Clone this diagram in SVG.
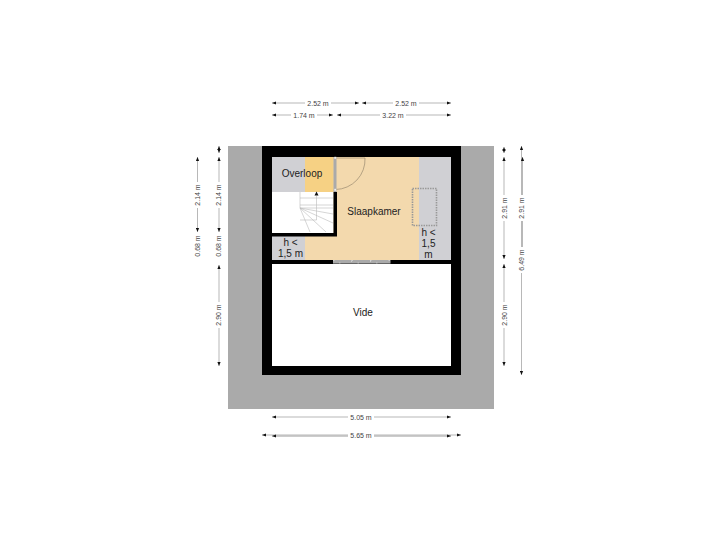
<svg xmlns="http://www.w3.org/2000/svg" width="720" height="540" viewBox="0 0 720 540">
<style>
text{font-family:"Liberation Sans",Arial,sans-serif;fill:#222;text-anchor:middle}
.r{font-size:10px}
.d{font-size:7px;fill:#444}
.dim line{stroke:#999;stroke-width:.7;marker-start:url(#a);marker-end:url(#a)}
.bg{fill:#fff}
.st{stroke:#bbb;stroke-width:.6;fill:none}
</style>
<defs>
<marker id="a" viewBox="0 0 4 4" refX="4" refY="2" markerUnits="userSpaceOnUse" markerWidth="4" markerHeight="4" orient="auto-start-reverse"><path d="M0 .4L4 2L0 3.600Z" fill="#111"/></marker>
</defs>
<rect width="720" height="540" fill="#fff"/>
<g id="site"><rect x="228" y="146" width="266" height="263" fill="#aaa"/></g>
<g id="walls">
<rect x="262" y="146" width="199" height="229" fill="#000"/>
</g>
<g id="slaapkamer">
<rect x="272" y="157" width="179" height="103" fill="#f3d9ad"/>
<rect x="419" y="157" width="32" height="103" fill="#d0d0d4"/>
<rect x="272" y="236" width="33" height="24" fill="#d0d0d4"/>
<text class="r" x="374" y="214.500">Slaapkamer</text>
<rect x="412.500" y="188.500" width="24" height="37" fill="none" stroke="#999" stroke-width="1.600" stroke-dasharray="1.500 1"/>
<text class="r" x="428.500" y="235.500">h &lt;</text>
<text class="r" x="428.500" y="247">1,5</text>
<text class="r" x="428.500" y="258">m</text>
<text class="r" x="290.500" y="245.500">h &lt;</text>
<text class="r" x="290.500" y="257">1,5 m</text>
</g>
<g id="overloop">
<rect x="272" y="157" width="33" height="35" fill="#d0d0d4"/>
<rect x="305" y="157" width="28.500" height="35" fill="#f6d184"/>
<text class="r" x="302" y="177">Overloop</text>
</g>
<g id="stairs">
<path d="M272 192H333.500V233H272Z" fill="#fff"/>
<path d="M333.500 192H337V236.500H272V233H333.500Z" fill="#000"/>
<rect x="333.500" y="157" width="3" height="35" fill="#aaa"/>
<path class="st" d="M300 192V208L310 232M300 208H333M300 198H333M300 205H333M316.500 196V220H300M300 208L333 214M300 208L333 223M300 208L326 232"/>
<path d="M316.500 191.500l-2 4h4z" fill="#111"/>
</g>
<g id="door">
<path d="M335.500 158H365A30 30 0 0 1 335.500 189.500" fill="none" stroke="#9a8a70" stroke-width=".7"/>
<rect x="334.300" y="156.800" width="2" height="2" fill="#eee"/>
<rect x="334.300" y="188.800" width="2" height="2" fill="#eee"/>
</g>
<g id="window">
<rect x="333" y="260" width="57.500" height="3.600" fill="#aaa"/>
<path d="M333 260.500h58v2.500h-58zM351.500 260.500v2.500M370.500 260.500v2.500" fill="none" stroke="#eee" stroke-width=".5" stroke-dasharray="1.500 17"/>
</g>
<g id="vide">
<rect x="272" y="264" width="179" height="102" fill="#fff"/>
<text class="r" x="363" y="316">Vide</text>
</g>
<g id="connectors" class="dim">
<line x1="272" y1="103" x2="359" y2="103"/>
<line x1="362" y1="103" x2="451" y2="103"/>
<line x1="272" y1="115" x2="333" y2="115"/>
<line x1="337" y1="115" x2="451" y2="115"/>
<line x1="197.500" y1="157" x2="197.500" y2="232"/>
<line x1="219" y1="146" x2="219" y2="153"/>
<line x1="219" y1="157" x2="219" y2="232"/>
<line x1="219" y1="265" x2="219" y2="366"/>
<line x1="504" y1="147" x2="504" y2="153"/>
<line x1="504" y1="157" x2="504" y2="259"/>
<line x1="504" y1="264" x2="504" y2="366"/>
<line x1="521.500" y1="146" x2="521.500" y2="375"/>
<line x1="522.500" y1="157" x2="522.500" y2="259"/>
<line x1="272" y1="417" x2="451" y2="417"/>
<line x1="262" y1="435" x2="461" y2="435"/>
<line x1="272" y1="436" x2="451" y2="436" style="stroke:#bbb;stroke-width:1.500"/>
</g>
<g id="labels">
<rect x="305" y="99" width="26" height="8" class="bg"/><text class="d" x="318" y="105.500">2.52 m</text>
<rect x="393" y="99" width="26" height="8" class="bg"/><text class="d" x="406" y="105.500">2.52 m</text>
<rect x="291" y="111" width="26" height="8" class="bg"/><text class="d" x="304" y="117.500">1.74 m</text>
<rect x="380" y="111" width="26" height="8" class="bg"/><text class="d" x="393" y="117.500">3.22 m</text>
<rect x="193" y="182" width="9" height="26" class="bg"/><text class="d" transform="translate(199.500 195) rotate(-90)">2.14 m</text>
<rect x="215" y="182" width="9" height="26" class="bg"/><text class="d" transform="translate(221 195) rotate(-90)">2.14 m</text>
<text class="d" transform="translate(199.500 246) rotate(-90)">0.68 m</text>
<text class="d" transform="translate(221 246) rotate(-90)">0.68 m</text>
<rect x="215" y="302" width="9" height="26" class="bg"/><text class="d" transform="translate(221 315) rotate(-90)">2.90 m</text>
<rect x="500" y="195" width="9" height="26" class="bg"/><text class="d" transform="translate(506.500 208) rotate(-90)">2.91 m</text>
<rect x="500" y="302" width="9" height="26" class="bg"/><text class="d" transform="translate(506.500 315) rotate(-90)">2.90 m</text>
<rect x="517" y="195" width="9" height="26" class="bg"/><text class="d" transform="translate(524 208) rotate(-90)">2.91 m</text>
<rect x="517" y="247" width="9" height="26" class="bg"/><text class="d" transform="translate(524 260) rotate(-90)">6.49 m</text>
<rect x="348" y="413" width="26" height="8" class="bg"/><text class="d" x="361" y="419.500">5.05 m</text>
<rect x="348" y="431" width="26" height="8" class="bg"/><text class="d" x="361" y="437.500">5.65 m</text>
</g>
</svg>
